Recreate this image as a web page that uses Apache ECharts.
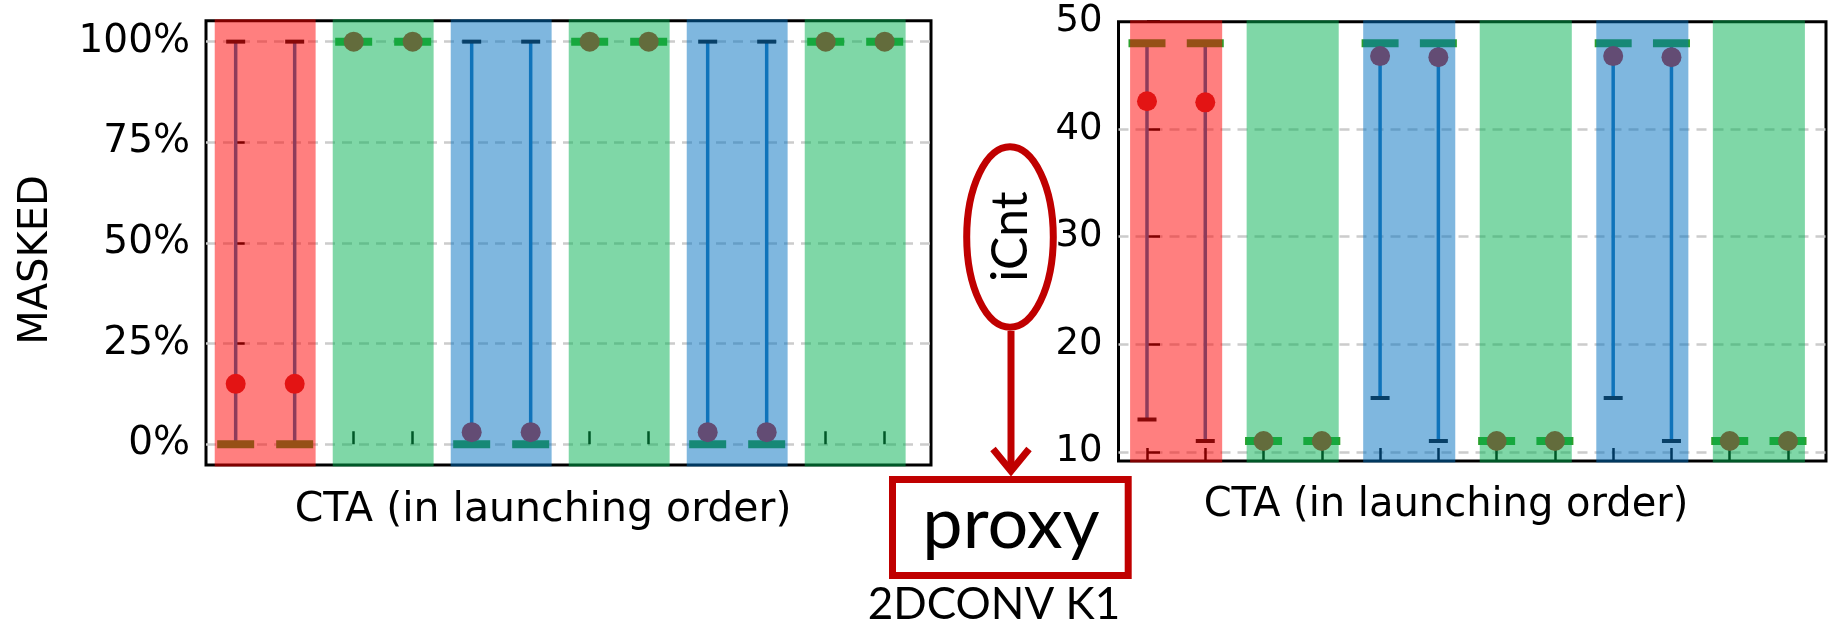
<!DOCTYPE html>
<html>
<head>
<meta charset="utf-8">
<title>MASKED / iCnt per CTA</title>
<script src="https://cdn.jsdelivr.net/npm/echarts@6/dist/echarts.min.js"></script>
<style>
  html, body { margin: 0; padding: 0; background: #fff; }
  #chart { width: 1833px; height: 628px; }
</style>
</head>
<body>
<div id="chart"></div>
<script>
// CTAs in launching order, grouped two by two into coloured bands
const ctaIndex = [0, 1, 2, 3, 4, 5, 6, 7, 8, 9, 10, 11];
const bandStart = [0, 2, 4, 6, 8, 10];
const bandGroup = ['red', 'green', 'blue', 'green', 'blue', 'green'];

// left panel: MASKED (%)
const maskedLow  = [0, 0, 100, 100, 0, 0, 100, 100, 0, 0, 100, 100];
const maskedHigh = [100, 100, 100, 100, 100, 100, 100, 100, 100, 100, 100, 100];
const maskedMean = [15, 15, 100, 100, 3, 3, 100, 100, 3, 3, 100, 100];
const maskedMode = [0, 0, 100, 100, 0, 0, 100, 100, 0, 0, 100, 100];
const maskedTicks = [0, 25, 50, 75, 100];

// right panel: iCnt
const icntLow  = [13, 11, 11, 11, 15, 11, 11, 11, 15, 11, 11, 11];
const icntHigh = [48, 48, 11, 11, 48, 48, 11, 11, 48, 48, 11, 11];
const icntMean = [42.6, 42.5, 11, 11, 46.8, 46.7, 11, 11, 46.8, 46.7, 11, 11];
const icntMode = [48, 48, 11, 11, 48, 48, 11, 11, 48, 48, 11, 11];
const icntTicks = [10, 20, 30, 40, 50];

const bandColor = {
  red: 'rgba(255, 0, 0, 0.5)',
  green: 'rgba(0, 176, 80, 0.5)',
  blue: 'rgba(0, 112, 192, 0.5)'
};
const FONT = '"DejaVu Sans", sans-serif';
const NOTE_FONT = 'Lato, "Open Sans", sans-serif';
const NOTE_RED = '#c00000';

const chart = echarts.init(document.getElementById('chart'), null, { renderer: 'canvas' });

// translucent band over each pair of CTAs, drawn on top of everything
function bandItem(pad) {
  return function (params, api) {
    const s = api.value(0);
    const x0 = api.coord([s - pad, 0])[0];
    const x1 = api.coord([s + 1 + pad, 0])[0];
    const cs = params.coordSys;
    return {
      type: 'rect',
      shape: { x: x0, y: cs.y - 1.5, width: x1 - x0, height: cs.height + 3 },
      style: { fill: bandColor[bandGroup[params.dataIndex]] }
    };
  };
}

// min..max whisker with caps
function errorBarItem(params, api) {
  const x = api.value(0);
  const lo = api.coord([x, api.value(1)]);
  const hi = api.coord([x, api.value(2)]);
  const cap = 9.5;
  return {
    type: 'group',
    children: [
      { type: 'line', shape: { x1: lo[0], y1: lo[1], x2: hi[0], y2: hi[1] },
        style: { stroke: '#1f77b4', lineWidth: 3.5 } },
      { type: 'line', shape: { x1: lo[0] - cap, y1: lo[1], x2: lo[0] + cap, y2: lo[1] },
        style: { stroke: '#111', lineWidth: 4 } },
      { type: 'line', shape: { x1: hi[0] - cap, y1: hi[1], x2: hi[0] + cap, y2: hi[1] },
        style: { stroke: '#111', lineWidth: 4 } }
    ]
  };
}

function panelSeries(idx, low, high, mean, mode, pad) {
  return [
    {
      type: 'custom', xAxisIndex: idx, yAxisIndex: idx, z: 2,
      renderItem: errorBarItem,
      data: ctaIndex.map((c, i) => [c, low[i], high[i]])
    },
    {
      type: 'scatter', xAxisIndex: idx, yAxisIndex: idx, z: 3,
      symbol: 'rect', symbolSize: [37, 8],
      itemStyle: { color: '#2ca02c', opacity: 1 },
      data: ctaIndex.map((c, i) => [c, mode[i]])
    },
    {
      type: 'scatter', xAxisIndex: idx, yAxisIndex: idx, z: 4,
      symbol: 'circle', symbolSize: 20,
      itemStyle: { color: '#c62828', opacity: 1 },
      data: ctaIndex.map((c, i) => [c, mean[i]])
    },
    {
      type: 'custom', xAxisIndex: idx, yAxisIndex: idx, z: 10,
      renderItem: bandItem(pad),
      data: bandStart.map(s => [s])
    }
  ];
}

function xAxisOf(idx, min, max) {
  return {
    type: 'value', gridIndex: idx, min: min, max: max,
    axisLine: { show: false },
    axisLabel: { show: false },
    splitLine: { show: false },
    axisTick: { show: true, inside: true, length: 13, customValues: ctaIndex,
      lineStyle: { color: '#000', width: 2.5 } }
  };
}

function yAxisOf(idx, min, max, ticks, fontSize, tickLen, fmt, topLine) {
  return {
    type: 'value', gridIndex: idx, min: min, max: max,
    axisLine: { show: false },
    axisTick: { show: true, inside: true, length: tickLen, customValues: ticks,
      lineStyle: { color: '#000', width: 2.5 } },
    axisLabel: { customValues: ticks, margin: 16, color: '#000',
      fontFamily: FONT, fontSize: fontSize, formatter: fmt },
    splitLine: { show: true, showMinLine: true, showMaxLine: topLine,
      lineStyle: { color: '#cccccc', width: 2.5, type: [10, 7] } }
  };
}

const option = {
  backgroundColor: '#fff',
  animation: false,
  grid: [
    { left: 206, top: 20.7, width: 725, height: 444.3, show: true,
      borderColor: '#000', borderWidth: 3, backgroundColor: 'transparent' },
    { left: 1118.5, top: 21.7, width: 707.5, height: 439.3, show: true,
      borderColor: '#000', borderWidth: 3, backgroundColor: 'transparent' }
  ],
  xAxis: [
    xAxisOf(0, -0.503, 11.785),
    xAxisOf(1, -0.489, 11.652)
  ],
  yAxis: [
    yAxisOf(0, -5.15, 105.2, maskedTicks, 39, 9, '{value}%', true),
    yAxisOf(1, 9.14, 50, icntTicks, 37, 13, '{value}', false)
  ],
  series: [
    ...panelSeries(0, maskedLow, maskedHigh, maskedMean, maskedMode, 0.355),
    ...panelSeries(1, icntLow, icntHigh, icntMean, icntMode, 0.29)
  ],
  graphic: [
    // axis titles
    { type: 'text', x: 37, y: 260, rotation: Math.PI / 2, silent: true,
      style: { text: 'MASKED', fontFamily: FONT, fontSize: 40, fill: '#000',
        align: 'center', verticalAlign: 'middle' } },
    { type: 'text', x: 543, y: 510, silent: true,
      style: { text: 'CTA (in launching order)', fontFamily: FONT, fontSize: 41, fill: '#000',
        align: 'center', verticalAlign: 'middle' } },
    { type: 'text', x: 1446, y: 506, silent: true,
      style: { text: 'CTA (in launching order)', fontFamily: FONT, fontSize: 40, fill: '#000',
        align: 'center', verticalAlign: 'middle' } },
    // annotation: iCnt -> proxy
    { type: 'ellipse', silent: true, z: 20,
      shape: { cx: 1010, cy: 237, rx: 43.3, ry: 90.3 },
      style: { fill: 'rgba(255,255,255,0)', stroke: NOTE_RED, lineWidth: 7 } },
    { type: 'text', x: 1010.6, y: 236.5, rotation: Math.PI / 2, silent: true, z: 21,
      style: { text: 'iCnt', fontFamily: NOTE_FONT, fontSize: 50, fill: '#000',
        align: 'center', verticalAlign: 'middle' } },
    { type: 'line', silent: true, z: 20,
      shape: { x1: 1011, y1: 331, x2: 1011, y2: 470 },
      style: { stroke: NOTE_RED, lineWidth: 7 } },
    { type: 'polyline', silent: true, z: 20,
      shape: { points: [[993, 449], [1011, 471], [1029, 449]] },
      style: { stroke: NOTE_RED, lineWidth: 7, fill: null, lineJoin: 'miter' } },
    { type: 'rect', silent: true, z: 20,
      shape: { x: 892.5, y: 479.5, width: 235.7, height: 96 },
      style: { fill: '#fff', stroke: NOTE_RED, lineWidth: 7 } },
    { type: 'text', x: 1011, y: 525, silent: true, z: 21,
      style: { text: 'proxy', fontFamily: NOTE_FONT, fontSize: 72, fill: '#000',
        align: 'center', verticalAlign: 'middle' } },
    { type: 'text', x: 994, y: 605, silent: true, z: 21,
      style: { text: '2DCONV K1', fontFamily: NOTE_FONT, fontSize: 44, fill: '#000',
        align: 'center', verticalAlign: 'middle' } }
  ]
};

chart.setOption(option);
</script>
</body>
</html>
